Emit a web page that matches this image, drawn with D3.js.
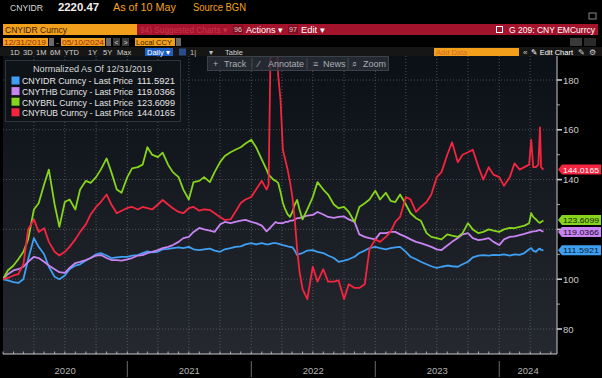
<!DOCTYPE html>
<html><head><meta charset="utf-8">
<script src="https://cdn.jsdelivr.net/npm/d3@7"></script>
<style>
body{margin:0;background:#000;overflow:hidden;}
svg{display:block;}
text{font-family:"Liberation Sans",Arial,sans-serif;}
</style>
</head><body>
<svg id="c" width="602" height="378"></svg>
<script>
// ---------- DATA ----------
const dates = [
  "2020-01-01","2020-01-15","2020-02-01","2020-02-15","2020-03-01","2020-03-15","2020-04-01","2020-04-15","2020-05-01","2020-05-15","2020-06-01","2020-06-15",
  "2020-07-01","2020-07-15","2020-08-01","2020-08-15","2020-09-01","2020-09-15","2020-10-01","2020-10-15","2020-11-01","2020-11-15","2020-12-01","2020-12-15",
  "2021-01-01","2021-01-15","2021-02-01","2021-02-15","2021-03-01","2021-03-15","2021-04-01","2021-04-15","2021-05-01","2021-05-15","2021-06-01","2021-06-15",
  "2021-07-01","2021-07-15","2021-08-01","2021-08-15","2021-09-01","2021-09-15","2021-10-01","2021-10-15","2021-11-01","2021-11-15","2021-12-01","2021-12-15",
  "2022-01-01","2022-01-15","2022-02-01","2022-02-15",
  "2022-02-21","2022-02-28","2022-03-07","2022-03-14","2022-03-21","2022-03-28","2022-04-04","2022-04-11","2022-04-18","2022-04-25","2022-05-02","2022-05-09","2022-05-16","2022-05-23",
  "2022-06-01","2022-06-15","2022-07-01","2022-07-15","2022-08-01","2022-08-15","2022-09-01","2022-09-15","2022-10-01","2022-10-15","2022-11-01","2022-11-15","2022-12-01","2022-12-15",
  "2023-01-01","2023-01-15","2023-02-01","2023-02-15","2023-03-01","2023-03-15","2023-04-01","2023-04-15","2023-05-01","2023-05-15","2023-06-01","2023-06-15",
  "2023-07-01","2023-07-15","2023-08-01","2023-08-15","2023-09-01","2023-09-15","2023-10-01","2023-10-15","2023-11-01","2023-11-15","2023-12-01","2023-12-15",
  "2024-01-01","2024-01-15","2024-02-01","2024-02-15","2024-03-01",
  "2024-03-15","2024-03-29","2024-04-04","2024-04-10","2024-04-18","2024-04-25","2024-04-30","2024-05-03","2024-05-10"
];

const cnyidr = [
  100,99.5,98.8,98.5,100,108,116.5,113,110,105,101,100,
  101.5,104,105.5,106,107.5,108.5,110,110.5,109.5,108.5,108.8,109,
  109,109.5,109.7,110.5,111.2,110.8,111,112,112.2,112.5,112.8,112.5,
  113,112,111.7,112,112.3,111.5,111,112,112.5,113,113.2,114,
  114.5,114,114.5,114,
  114,114.3,114.5,114.5,114.3,114,113.7,113.5,113.2,113,112.8,111.5,109.7,110.2,
  110.5,111.5,111.7,111,110.5,109.5,108.5,107,107.5,108,109,110.5,111.5,112.5,
  113,112.5,112,112.5,112.8,113,111,109,108,107,106,105.2,
  104.5,105,105.5,105.2,105,106,107,108.8,109.5,109.7,109.5,109.8,
  109.7,110,109.5,110,109.8,
  110.5,112,112.5,111.5,111,112,112.3,111.8,111.5921
];

const cnythb = [
  100,102,103.5,104,105,107,109,108.5,107,105.5,104,102.8,
  102.5,104.5,106.5,107,107.7,108.5,109.5,109.7,108.5,107.7,107.7,107.5,
  108,108.5,109.5,109.7,110.5,111,111.7,112.5,113,113.7,115,116.5,
  117,119,120.6,120,119.5,119,122,123,122.5,123,123.5,123.8,
  123,122.5,121.5,119.2,
  120,121,122,123,122.5,122.5,122.5,123,123,123.5,123.5,124,124.5,124.5,
  125,125.5,125.8,127,126,125,124.6,125,125.2,124,123,118,117,116.5,
  116,118.5,118.5,119,119,118,117,116,115,114.5,113.7,113,
  112,111.7,113.5,115,116.5,118,118.5,116.5,115.7,116,116.5,115,
  113.7,116,117,117.2,117.7,
  118.2,118.8,119,119.2,119.3,119.6,119.8,119.5,119.0366
];

const cnybrl = [
  100,103.5,105.5,108,111,116,128,130.5,138,144,130,121,
  131,132,128,136,139.5,138.7,141,144,148.5,143,136,134.7,
  141,144.5,145,146,153,150,149,150.8,146,143,141,136,
  132,139,139.5,141,139,143,147,149.5,151,152,153,154.5,
  156,153,148,144,
  142,141,140,139.5,138.7,135,130.6,128,126,125,127,130,131.8,128,
  124,128,133,139,136,134,130,128.5,129,127,123,129,130.5,132,
  135.5,132,134.7,131.5,131,134,130,126.5,124.5,123.5,118.5,117,
  116.5,116,118,117.5,117,118.5,122.5,120,118.5,119,120,119.5,
  119,120,120.6,120.5,121,
  121.5,122.5,126.5,125,124,123,122.6,123,123.6099
];

const cnyrub = [
  100,100.5,101.5,102,106,120,124,119,120.5,115,111,109.5,
  111,113,116,119,122,126,129,131,134,130,126.5,127.5,
  128.6,129,128,129,128.5,128,130,131.8,130,128.5,127,126.5,
  128.5,129,127.5,128,127.8,126.5,125,123.8,124,127,130.6,132,
  133,136,139.5,136,
  138,205,225,215,182,172,152,148,144,139,133,124,112,103,
  96,92,105,99,104,99,99,99.5,92,98,96.5,96.5,98,112,
  116,115,117,119,123,125,133,132,127,129,131,134,
  141,143,150,155,147,150,151,152,145,140,145,142,
  141,137.5,141,146.5,144,
  145,146,156,145,145,146,161,145,144.0165
];

const seriesNames = ["CNYIDR Curncy - Last Price","CNYTHB Curncy - Last Price","CNYBRL Curncy - Last Price","CNYRUB Curncy - Last Price"];
const lastLabels = ["111.5921","119.0366","123.6099","144.0165"];
const yTicks = [80,100,120,140,160,180];
const yearLabels = ["2020","2021","2022","2023","2024"];
const colors = ["#3f9ff2","#c784f2","#86d41c","#f5243f"];

// ---------- LAYOUT ----------
const svg = d3.select("#c");
const parse = d3.timeParse("%Y-%m-%d");
const D = dates.map(parse);
const L = 3, R = 557, T = 56, B = 354;
const x = d3.scaleTime().domain([parse("2020-01-01"), parse("2024-06-19")]).range([L, R]);
const y = d3.scaleLinear().domain([80, 180]).range([329, 80]);

const defs = svg.append("defs");
const g = defs.append("linearGradient").attr("id","bg").attr("x1",0).attr("y1",0).attr("x2",0).attr("y2",1);
g.append("stop").attr("offset","0%").attr("stop-color","#0b0f16");
g.append("stop").attr("offset","100%").attr("stop-color","#25292f");
defs.append("clipPath").attr("id","clip").append("rect").attr("x",L).attr("y",T).attr("width",R-L).attr("height",B-T);

svg.append("rect").attr("width",602).attr("height",378).attr("fill","#000");
svg.append("rect").attr("x",L).attr("y",T).attr("width",R-L).attr("height",B-T).attr("fill","url(#bg)");

// grid
const qTicks = d3.timeMonth.every(3).range(parse("2020-02-01"), parse("2024-06-01"));
svg.append("g").selectAll("line").data(qTicks).join("line")
  .attr("x1",d=>x(d)).attr("x2",d=>x(d)).attr("y1",T).attr("y2",B)
  .attr("stroke","#5a5f66").attr("stroke-width",0.8).attr("stroke-dasharray","1,2");
svg.append("g").selectAll("line").data(yTicks).join("line")
  .attr("x1",L).attr("x2",R).attr("y1",d=>y(d)).attr("y2",d=>y(d))
  .attr("stroke","#5a5f66").attr("stroke-width",0.8).attr("stroke-dasharray","1,2");

// lines
const all = [cnyidr, cnythb, cnybrl, cnyrub];
const line = d3.line().x((d,i)=>x(D[i])).y(d=>y(d)).curve(d3.curveLinear);
const lg = svg.append("g").attr("clip-path","url(#clip)");
all.forEach((s,k)=>{
  lg.append("path").attr("d", line(s)).attr("fill","none").attr("stroke",colors[k])
    .attr("stroke-width",1.8).attr("stroke-linejoin","round");
});

// x axis
svg.append("line").attr("x1",L).attr("x2",R).attr("y1",B).attr("y2",B).attr("stroke","#c8c8c8").attr("stroke-width",1);
const mTicks = d3.timeMonth.every(1).range(parse("2020-01-01"), parse("2024-06-19"));
svg.append("g").selectAll("line").data(mTicks).join("line")
  .attr("x1",d=>x(d)).attr("x2",d=>x(d)).attr("y1",B-2.5).attr("y2",B)
  .attr("stroke","#c8c8c8").attr("stroke-width",0.8);
const yearStarts = yearLabels.map(s=>parse(s+"-01-01"));
svg.append("g").selectAll("line").data(yearStarts.slice(1)).join("line")
  .attr("x1",d=>x(d)).attr("x2",d=>x(d)).attr("y1",361).attr("y2",377)
  .attr("stroke","#6a6a6a").attr("stroke-width",1);
svg.append("g").selectAll("text").data(yearLabels).join("text")
  .attr("x",(d,i)=> i<4 ? (x(yearStarts[i]) + x(parse((+d+1)+"-01-01")))/2 : (x(yearStarts[i]) + R)/2)
  .attr("y",374).attr("text-anchor","middle").attr("font-size",9.5).attr("fill","#b4b4b4").text(d=>d);

// right tags (with simple collision avoidance)
const tagText = ["#0c1a2a","#1a0c26","#142200","#ffffff"];
const tags = all.map((s,k)=>({k, v:s[s.length-1], ty:y(s[s.length-1])})).sort((a,b)=>a.ty-b.ty);
for (let i=1;i<tags.length;i++){
  if (tags[i].ty - tags[i-1].ty < 12) {
    const mid = (tags[i].ty + tags[i-1].ty)/2;
    tags[i-1].ty = mid - 6; tags[i].ty = mid + 6;
  }
}

// y axis (labels hidden behind a value tag are not drawn, as in the reference)
svg.append("line").attr("x1",R).attr("x2",R).attr("y1",T).attr("y2",B).attr("stroke","#c8c8c8").attr("stroke-width",1);
const minor = d3.range(80,181,10);
svg.append("g").selectAll("line").data(minor).join("line")
  .attr("x1",R).attr("x2",d=> d%20===0 ? R+5 : R+3).attr("y1",d=>y(d)).attr("y2",d=>y(d))
  .attr("stroke","#c8c8c8").attr("stroke-width",d=> d%20===0 ? 1.6 : 0.8);
const visibleTicks = yTicks.filter(v => !tags.some(t => Math.abs(t.ty - y(v)) < 9));
svg.append("g").selectAll("text").data(visibleTicks).join("text")
  .attr("x",R+6).attr("y",d=>y(d)+3.5).attr("font-size",9.5).attr("fill","#c8c8c8").text(d=>d);

const tg = svg.append("g");
tags.forEach(t=>{
  const yy = t.ty, k = t.k;
  tg.append("path").attr("d",`M${R+1},${yy} L${R+5},${yy-5} L601,${yy-5} L601,${yy+5} L${R+5},${yy+5} Z`)
    .attr("fill",colors[k]);
  tg.append("text").attr("x",R+6).attr("y",yy+3).attr("font-size",8)
    .attr("textLength",36).attr("lengthAdjust","spacingAndGlyphs").attr("fill",tagText[k]).text(lastLabels[k]);
});

// legend
const leg = svg.append("g");
leg.append("rect").attr("x",5.5).attr("y",60.5).attr("width",175).attr("height",61)
  .attr("fill","#0f1318").attr("fill-opacity",0.92).attr("stroke","#30353c");
leg.append("text").attr("x",33).attr("y",72).attr("font-size",8.6)
  .attr("textLength",119).attr("lengthAdjust","spacingAndGlyphs").attr("fill","#d8d8d8").text("Normalized As Of 12/31/2019");
seriesNames.forEach((n,k)=>{
  const yy = 81 + k*10.6;
  leg.append("rect").attr("x",11.5).attr("y",yy-4.5).attr("width",8).attr("height",8).attr("fill",colors[k]);
  leg.append("text").attr("x",22).attr("y",yy+3.3).attr("font-size",8.8)
    .attr("textLength",111).attr("lengthAdjust","spacingAndGlyphs").attr("fill","#e4e4e4").text(n);
  leg.append("text").attr("x",137).attr("y",yy+3.3).attr("font-size",8.8)
    .attr("textLength",38).attr("lengthAdjust","spacingAndGlyphs").attr("fill","#e4e4e4").text(lastLabels[k]);
});

// toolbar over chart
const tb = svg.append("g");
tb.append("rect").attr("x",207.5).attr("y",56.5).attr("width",181).attr("height",14).attr("fill","#2a3038").attr("fill-opacity",0.8).attr("stroke","#3c424a");
[[213,"+"],[224,"Track"],[258,"⁄"],[268,"Annotate"],[313,"≡"],[323,"News"],[352,"⌕"],[363,"Zoom"]].forEach(([px,t])=>{
  tb.append("text").attr("x",px).attr("y",66.5).attr("font-size",9).attr("fill","#a9aeb5").text(t);
});
[252,307,348].forEach(px=>tb.append("line").attr("x1",px).attr("x2",px).attr("y1",58).attr("y2",69).attr("stroke","#444a52"));

// ---------- HEADER ----------
const hd = svg.append("g");
const txt = (px,py,fs,fill,t,len,bold)=>{
  const e = hd.append("text").attr("x",px).attr("y",py).attr("font-size",fs).attr("fill",fill).text(t);
  if (len) e.attr("textLength",len).attr("lengthAdjust","spacingAndGlyphs");
  if (bold) e.attr("font-weight","bold");
  return e;
};
txt(10,11,9.5,"#d8d8d8","CNYIDR",33);
txt(58,11,11,"#f0f0f0","2220.47",41,true);
txt(113,11,10.5,"#f5a21e","As of 10 May",63);
txt(193,11,10,"#f5a21e","Source BGN",53);
hd.append("rect").attr("x",589).attr("y",13).attr("width",7).attr("height",6).attr("fill","none").attr("stroke","#888");

// row 2
hd.append("rect").attr("x",3).attr("y",24).attr("width",134).attr("height",11).attr("fill","#f2a01c");
txt(5,32.5,9.5,"#3a2200","CNYIDR Curncy",62);
hd.append("rect").attr("x",137).attr("y",24).attr("width",461).attr("height",11).attr("fill","#a3132b");
txt(140,32.5,8.5,"#c8344a","94) Suggested Charts ▾",88);
hd.append("rect").attr("x",233).attr("y",25.5).attr("width",10).attr("height",8).attr("fill","#7a0e20");
txt(234,32.3,7.5,"#e8c0c8","96",8);
txt(246,32.5,9,"#ffffff","Actions ▾",37);
hd.append("rect").attr("x",288).attr("y",25.5).attr("width",10).attr("height",8).attr("fill","#7a0e20");
txt(289,32.3,7.5,"#e8c0c8","97",8);
txt(301,32.5,9,"#ffffff","Edit ▾",24);
hd.append("rect").attr("x",496.5).attr("y",26.5).attr("width",6).attr("height",6).attr("fill","none").attr("stroke","#fff");
txt(509,32.5,9.2,"#ffffff","G 209: CNY EMCurrcy",86);

// row 3
const orangeBox = (x0,w,t,tc,len)=>{
  hd.append("rect").attr("x",x0).attr("y",38).attr("width",w).attr("height",8).attr("fill","#f2a01c");
  txt(x0+1,45,8,tc,t,len);
};
orangeBox(3,45,"12/31/2019","#9a2a10",42);
hd.append("rect").attr("x",49).attr("y",38).attr("width",5).attr("height",8).attr("fill","#6a6a6a");
txt(56,45,8,"#f2a01c","-");
orangeBox(61,44,"05/10/2024","#9a2a10",42);
hd.append("rect").attr("x",106).attr("y",38).attr("width",5).attr("height",8).attr("fill","#6a6a6a");
hd.append("rect").attr("x",113).attr("y",38).attr("width",7).attr("height",8).attr("fill","#3a3a3a");
hd.append("rect").attr("x",122).attr("y",38).attr("width",7).attr("height",8).attr("fill","#3a3a3a");
txt(114.5,45,7,"#ddd","<");
txt(123.5,45,7,"#ddd",">");
orangeBox(135,40,"Local CCY","#3a2200",36);
hd.append("rect").attr("x",176).attr("y",38).attr("width",5).attr("height",8).attr("fill","#6a6a6a");
hd.append("rect").attr("x",570).attr("y",38).attr("width",12).attr("height",8).attr("fill","#3a3a3a");
hd.append("rect").attr("x",584).attr("y",38).attr("width",12).attr("height",8).attr("fill","#2a2a2a");

// row 4
hd.append("rect").attr("x",0).attr("y",47).attr("width",602).attr("height",9).attr("fill","#161616");
[[10,"1D"],[23,"3D"],[36,"1M"],[50,"6M"],[64,"YTD"],[88,"1Y"],[103,"5Y"],[117,"Max"]].forEach(([px,t])=>{
  txt(px,54.5,7.5,"#d0d0d0",t);
});
hd.append("rect").attr("x",145).attr("y",48).attr("width",28).attr("height",8).attr("fill","#1f5fc4");
txt(147,54.5,7.5,"#ffffff","Daily ▾");
hd.append("rect").attr("x",179).attr("y",48.5).attr("width",7).attr("height",7).attr("fill","#2a4c8a");
txt(190,54.5,7.5,"#c0c0c0","1|");
txt(209,54.5,7.5,"#c0c0c0","▾");
txt(225,54.5,7.5,"#d0d0d0","Table");
hd.append("rect").attr("x",434).attr("y",48).attr("width",85).attr("height",8).attr("fill","#f2a01c");
txt(436,54.5,7.5,"#d86a2a","Add Data");
txt(523,54.5,8,"#d0d0d0","«");
txt(531,54.5,8,"#ffffff","✎ Edit Chart",42);
txt(578,54.5,8,"#d0d0d0","✎");
txt(589,54.5,8,"#d0d0d0","⚙");
</script>
</body></html>
